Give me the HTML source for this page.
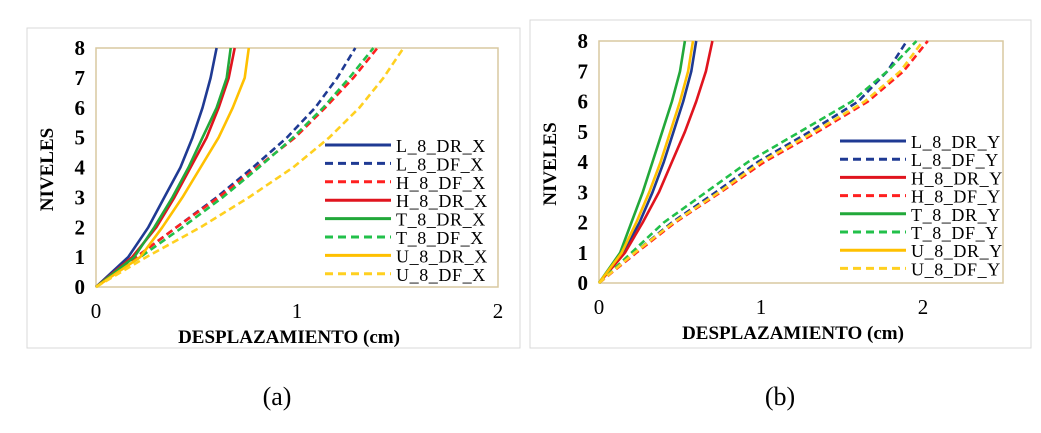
<!DOCTYPE html>
<html><head><meta charset="utf-8"><style>
body{margin:0;background:#fff;width:1041px;height:428px;overflow:hidden}
svg text{font-family:"Liberation Serif",serif}
</style></head><body>
<svg id="s" width="1041" height="428">
<rect x="27" y="28" width="493" height="320" fill="#fff" stroke="#d9d9d9"/>
<rect x="530" y="20" width="501" height="328" fill="#fff" stroke="#d9d9d9"/>
<text x="277" y="405" font-size="26" text-anchor="middle">(a)</text>
<text x="780" y="405" font-size="26" text-anchor="middle">(b)</text>
</svg>
<script>
const levels=[0,1,2,3,4,5,6,7,8];
const namesA=["L_8_DR_X","L_8_DF_X","H_8_DF_X","H_8_DR_X","T_8_DR_X","T_8_DF_X","U_8_DR_X","U_8_DF_X"];
const L_DR_X=[0,0.16,0.26,0.34,0.42,0.48,0.53,0.57,0.6];
const L_DF_X=[0,0.2,0.4,0.6,0.78,0.95,1.09,1.2,1.29];
const H_DF_X=[0,0.2,0.4,0.61,0.8,0.99,1.14,1.28,1.4];
const H_DR_X=[0,0.18,0.3,0.39,0.47,0.55,0.61,0.66,0.69];
const T_DR_X=[0,0.19,0.29,0.38,0.46,0.53,0.6,0.65,0.67];
const T_DF_X=[0,0.22,0.43,0.63,0.81,0.98,1.13,1.26,1.38];
const U_DR_X=[0,0.22,0.33,0.43,0.52,0.61,0.68,0.74,0.76];
const U_DF_X=[0,0.25,0.52,0.76,0.98,1.16,1.31,1.43,1.53];
const namesB=["L_8_DR_Y","L_8_DF_Y","H_8_DR_Y","H_8_DF_Y","T_8_DR_Y","T_8_DF_Y","U_8_DR_Y","U_8_DF_Y"];
const L_DR_Y=[0,0.15,0.25,0.33,0.4,0.46,0.52,0.57,0.6];
const L_DF_Y=[0,0.22,0.45,0.72,0.98,1.3,1.6,1.78,1.9];
const H_DR_Y=[0,0.16,0.27,0.37,0.45,0.53,0.6,0.66,0.7];
const H_DF_Y=[0,0.23,0.47,0.75,1.02,1.35,1.66,1.88,2.03];
const T_DR_Y=[0,0.13,0.2,0.27,0.33,0.39,0.45,0.5,0.53];
const T_DF_Y=[0,0.2,0.4,0.66,0.92,1.24,1.56,1.78,1.96];
const U_DR_Y=[0,0.14,0.23,0.31,0.38,0.44,0.5,0.55,0.58];
const U_DF_Y=[0,0.22,0.46,0.74,1.0,1.33,1.64,1.86,2.0];
const xTicksA=[0,1,2];
const xTicksB=[0,1,2];
const yTicks=[0,1,2,3,4,5,6,7,8];
const NS="http://www.w3.org/2000/svg";
const svg=document.getElementById('s');
function mk(t,a,txt){const e=document.createElementNS(NS,t);for(const k in a)e.setAttribute(k,a[k]);if(txt!==undefined)e.textContent=txt;svg.appendChild(e);return e;}
const col={L:"#1f3a93",H:"#e0141e",T:"#22a83a",U:"#ffc000"};
const colDF={L:"#1f3a93",H:"#ff2020",T:"#22c04a",U:"#ffd020"};
function chart(p,names,series,xTicks){
  const X=v=>p.x0+(v-p.xmin)/(p.xmax-p.xmin)*(p.x1-p.x0);
  const Y=v=>p.y1-v/8*(p.y1-p.y0);
  let r=mk('rect',{x:p.x0,y:p.y0,width:p.x1-p.x0,height:p.y1-p.y0,fill:'none',stroke:'#d9c9a0','stroke-width':1.5});
  
  
  yTicks.forEach(t=>{const e=mk('text',{x:p.x0-11,y:Y(t)+7,'font-size':21,'font-weight':'bold','text-anchor':'end'},t);
    
    });
  xTicks.forEach(t=>{const e=mk('text',{x:X(t),y:p.y1+31,'font-size':21,'text-anchor':'middle'},t);
    
    });
  let xt=mk('text',{x:(p.x0+p.x1)/2-8,y:p.y1+56,'font-size':19,'font-weight':'bold','text-anchor':'middle'},'DESPLAZAMIENTO  (cm)');
  
  
  let cy=(p.y0+p.y1)/2+2, cx=p.x0-43;
  let yt=mk('text',{x:cx,y:cy,'font-size':19,'font-weight':'bold','text-anchor':'middle',transform:`rotate(-90 ${cx} ${cy})`},'NIVELES');
  
  
  names.forEach((n,i)=>{
    const k=n[0], df=n.indexOf('DF')>=0, c=df?colDF[k]:col[k];
    const pts=series[i].map((v,j)=>X(v).toFixed(1)+','+Y(levels[j]).toFixed(1)).join(' ');
    const pl=mk('polyline',{points:pts,fill:'none',stroke:c,'stroke-width':2.6,'stroke-dasharray':df?'7,4':'none','stroke-linejoin':'round'});
    
    
    const ly=p.ly+i*p.ls;
    const ll=mk('line',{x1:p.lx,x2:p.lx+66,y1:ly,y2:ly,stroke:c,'stroke-width':3,'stroke-dasharray':df?'8,5':'none'});
    
    
    const lt=mk('text',{x:p.lx+71,y:ly+7,'font-size':18,'letter-spacing':'0.6'},n);
    
    
  });
}
chart({id:'a',x0:96,x1:498,y0:48,y1:287,xmin:0,xmax:2,lx:325,ly:145,ls:18.4},namesA,[L_DR_X,L_DF_X,H_DF_X,H_DR_X,T_DR_X,T_DF_X,U_DR_X,U_DF_X],xTicksA);
chart({id:'b',x0:599,x1:1003,y0:41,y1:283,xmin:0,xmax:2.494,lx:840,ly:141,ls:18.2},namesB,[L_DR_Y,L_DF_Y,H_DR_Y,H_DF_Y,T_DR_Y,T_DF_Y,U_DR_Y,U_DF_Y],xTicksB);
</script>
</body></html>
